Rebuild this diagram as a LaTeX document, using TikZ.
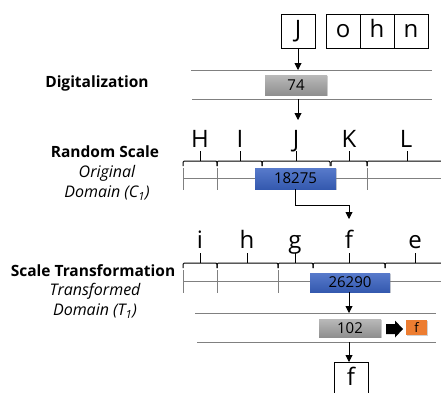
\documentclass[tikz,border=0pt]{standalone}
\usepackage{fontspec}
\setmainfont{Open Sans}
\usetikzlibrary{arrows.meta,shadows}
\definecolor{bluebox}{HTML}{3A63C2}
\definecolor{graybox}{HTML}{A8A8A8}
\definecolor{orangebox}{HTML}{ED7D31}
\definecolor{sepline}{HTML}{808080}
\begin{document}
\begin{tikzpicture}[x=1pt,y=-1pt,
  letterbox/.style={draw=black,line width=0.9pt,minimum width=34pt,minimum height=34pt,inner sep=0pt,text height=17pt,text depth=4pt,font=\fontsize{24}{24}\selectfont},
  scaleletter/.style={inner sep=0pt,anchor=base,font=\fontsize{24}{24}\selectfont},
  numbox/.style={inner sep=0pt,font=\fontsize{15}{15}\selectfont,drop shadow={shadow xshift=1pt,shadow yshift=-1pt,opacity=0.35}},
  bluenum/.style={numbox,top color=bluebox!85!white,bottom color=bluebox!90!black},
  graynum/.style={numbox,top color=graybox!80!white,bottom color=graybox!85!black},
  sep/.style={draw=sepline,line width=0.9pt},
  numline/.style={draw=sepline,line width=0.7pt},
  brace/.style={draw=black,line width=1pt,rounded corners=1.2pt},
  arr/.style={draw=black,line width=0.9pt,-{Triangle[length=7pt,width=7pt]}},
  title/.style={font=\bfseries\fontsize{15.5}{15.5}\selectfont,inner sep=0pt},
  sub/.style={font=\itshape\fontsize{16}{16}\selectfont,inner sep=0pt}
]
\useasboundingbox (0,0) rectangle (441,392);
\fill[white] (0,0) rectangle (441,392);

% ---- top word boxes
\node[letterbox] (J) at (298,31) {J};
\node[letterbox] (o) at (343,31) {o};
\node[letterbox] (h) at (377,31) {h};
\node[letterbox] (n) at (411,31) {n};

% ---- digitalization
\node[title] (dig) at (97,83) {Digitalization};
\coordinate (l1a) at (191,70); \coordinate (l1b) at (432,70);
\coordinate (l2a) at (192,99); \coordinate (l2b) at (432,99);
\draw[sep] (l1a) -- (l1b);
\draw[sep] (l2a) -- (l2b);
\node[graynum,minimum width=62pt,minimum height=20pt] (d74) at (296,85) {74};
\coordinate (j1) at (298,70);
\draw[arr] (J.south) -- (j1);
\coordinate (j2s) at (298,99); \coordinate (j2e) at (298,120);
\draw[arr] (j2s) -- (j2e);

% ---- random scale
\node[title] (rs) at (105,152) {Random Scale};
\node[sub] (od1) at (107,173) {Original};
\node[sub] (od2) at (107,193) {Domain (C\textsubscript{1})};

\node[scaleletter] (sH) at (200,147) {H};
\node[scaleletter] (sI) at (240,147) {I};
\node[scaleletter] (sJ) at (296,147) {J};
\node[scaleletter] (sK) at (349,147) {K};
\node[scaleletter] (sL) at (406,147) {L};

\draw[numline] (183,178) -- (441,178);
\foreach \x in {183,217,367} \draw[numline] (\x,168) -- (\x,190);

\draw[brace] (183,166) -- (183,161) -- (217,161) -- (217,166);
\draw[brace] (217,166) -- (217,161) -- (262,161) -- (262,166);
\draw[brace] (262,166) -- (262,161) -- (330,161) -- (330,166);
\draw[brace] (331,166) -- (331,161) -- (367,161) -- (367,166);
\draw[brace] (367,166) -- (367,161) -- (445,161);
\foreach \x in {200,240,296,349,407} \draw[draw=black,line width=1pt] (\x,161) -- (\x,151);

\node[bluenum,minimum width=81pt,minimum height=21pt] (b1) at (295.5,178.5) {18275};
\coordinate (t1) at (349,219);
\draw[arr] (b1.south) -- ++(0,16) -| (t1);

% ---- scale transformation
\node[title] (st) at (93,271) {Scale Transformation};
\node[sub] (td1) at (95,291) {Transformed};
\node[sub] (td2) at (95,311) {Domain (T\textsubscript{1})};

\node[scaleletter] (ti) at (200,248) {i};
\node[scaleletter] (th) at (247,248) {h};
\node[scaleletter] (tg) at (295,248) {g};
\node[scaleletter] (tf) at (349,248) {f};
\node[scaleletter] (te) at (415,248) {e};

\draw[numline] (183,281) -- (441,281);
\foreach \x in {183,217,278} \draw[numline] (\x,270) -- (\x,293);

\draw[brace] (183,268) -- (183,263) -- (217,263) -- (217,268);
\draw[brace] (217,268) -- (217,263) -- (278,263) -- (278,268);
\draw[brace] (278,268) -- (278,263) -- (313,263) -- (313,268);
\draw[brace] (313,268) -- (313,263) -- (385,263) -- (385,268);
\draw[brace] (385,268) -- (385,263) -- (445,263);
\foreach \x in {200,247,295,349,415} \draw[draw=black,line width=1pt] (\x,263) -- (\x,253);

\node[bluenum,minimum width=80pt,minimum height=19pt] (b2) at (350,282.5) {26290};

\coordinate (l3a) at (195,313); \coordinate (l3b) at (436,313);
\coordinate (l4a) at (197,342); \coordinate (l4b) at (436,342);
\draw[sep] (l3a) -- (l3b);
\draw[sep] (l4a) -- (l4b);
\coordinate (t2) at (349,313);
\draw[arr] (b2.south -| t2) -- (t2);

\node[graynum,minimum width=62pt,minimum height=18pt] (g102) at (350,328) {102};
% block arrow
\coordinate (blk) at (386,329);
\fill[black] (blk) ++(0,-5) -- ++(9,0) -- ++(0,-3.5) -- ++(8,8.5) -- ++(-8,8.5) -- ++(0,-3.5) -- ++(-9,0) -- cycle;
\node[numbox,fill=orangebox,minimum width=21pt,minimum height=15pt,font=\fontsize{13}{13}\selectfont] (of) at (416.5,327.5) {f};

\coordinate (t3s) at (349,342);
\node[letterbox,anchor=north] (fbox) at (351,362) {f};
\draw[arr] (t3s) -- (t3s |- fbox.north);
\end{tikzpicture}
\end{document}
